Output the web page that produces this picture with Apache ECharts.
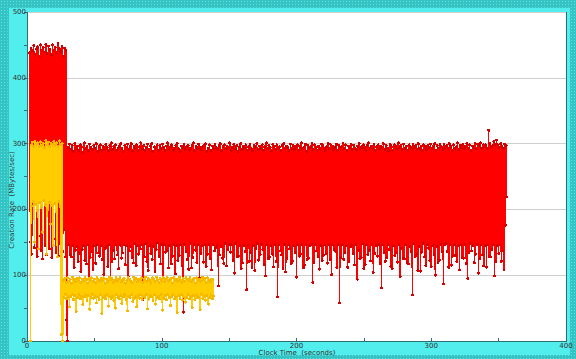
<!DOCTYPE html>
<html>
<head>
<meta charset="utf-8">
<script src="https://cdn.jsdelivr.net/npm/echarts@6/dist/echarts.min.js"></script>
<style>
html,body{margin:0;padding:0;width:576px;height:359px;overflow:hidden;}
body{background-color:#34c4c4;background-image:radial-gradient(circle, #62dcdc 0.7px, transparent 0.9px);background-size:3px 3px;}
#panel{position:absolute;left:9px;top:8px;width:561px;height:347px;background:#52eded;}
#chart{position:absolute;left:0;top:0;width:576px;height:359px;}
#chart svg path{shape-rendering:crispEdges;}
</style>
</head>
<body>
<div id="panel"></div>
<div id="chart"></div>
<script>
// ---- data (seconds / MBytes per sec) ----
const xTicks = [0, 100, 200, 300, 400];
const yTicks = [0, 100, 200, 300, 400, 500];
const xTitle = 'Clock Time  (seconds)';
const yTitle = 'Creation Rate  (MBytes/sec)';

// red series, first burst: sampled every 0.5 s starting at 2 s
const redStartA = 2, redStepA = 0.5;
const redA = [438,150,445,132,441,290,449,142,436,210,444,128,447,160,433,280,450,138,442,125,446,240,439,145,451,131,437,275,448,140,443,220,435,127,450,155,441,300,446,135,438,190,452,129,444,148,440,260,447,136,433,170,445,128,441,32];

// red series, long run: sampled every 0.5 s starting at 30 s
const redStartB = 30, redStepB = 0.5;
const redB = [0,
294,146,299,131,291,128,297,145,288,112,300,138,293,144,296,121,290,133,298,105,
295,139,287,145,301,122,292,117,296,146,289,88,299,127,294,136,291,109,297,145,
293,118,300,146,288,134,295,129,298,145,290,124,296,101,292,141,299,144,294,113,
289,147,297,72,301,120,291,138,295,125,298,146,290,131,293,110,296,147,300,126,
292,134,288,146,297,116,294,145,299,98,291,137,295,144,300,127,289,119,296,148,
293,115,298,145,290,132,295,140,301,146,292,63,297,128,289,148,294,121,299,107,
291,145,296,133,300,124,288,144,295,106,293,139,298,149,290,128,297,117,292,147,
299,92,294,146,289,135,296,137,301,111,291,145,295,117,298,129,290,147,293,102,
297,145,300,122,292,130,288,146,296,114,294,44,299,147,291,136,295,124,297,109,
290,149,293,111,298,127,301,147,289,138,296,119,292,146,299,96,294,133,291,145,
295,120,297,146,300,113,288,132,293,147,298,125,290,108,296,146,292,137,299,141,
294,145,291,84,297,131,300,144,289,126,295,118,298,148,292,114,296,139,293,147,
301,135,290,146,294,122,299,103,292,148,297,128,288,129,295,145,300,110,291,119,
296,145,293,136,298,78,290,146,295,121,299,134,292,112,289,145,297,107,294,140,
300,148,291,123,296,131,293,147,298,139,290,116,295,99,301,146,292,125,297,128,
294,145,289,132,299,113,296,147,291,121,298,67,293,146,295,137,290,131,297,110,
300,147,292,105,296,126,294,146,289,140,299,118,293,121,297,145,291,134,295,97,
298,146,290,129,296,132,301,147,292,111,294,115,299,146,288,124,297,126,293,145,
295,147,300,89,291,119,298,146,294,137,290,128,296,109,292,145,299,122,297,130,
293,146,289,133,295,118,300,147,292,124,298,101,296,146,291,139,294,136,299,112,
290,147,297,58,293,127,295,146,301,124,292,135,298,145,289,112,296,120,294,143,
299,146,291,133,297,116,293,147,290,94,296,138,300,125,292,127,295,148,298,110,
294,116,289,146,297,131,301,138,292,122,296,146,293,104,299,133,290,145,295,129,
298,147,292,118,296,81,294,146,300,135,291,121,297,127,293,147,289,139,299,113,
295,110,290,145,298,130,296,134,292,120,301,146,294,98,297,141,291,126,299,125,
293,146,296,119,290,117,298,144,295,136,292,70,299,148,294,128,297,132,291,107,
300,144,293,106,296,135,289,148,298,128,295,115,291,147,297,141,294,122,299,113,
292,145,296,131,300,100,290,144,297,119,293,123,298,147,295,136,291,87,299,146,
294,148,297,136,292,112,300,147,296,115,290,129,298,146,293,130,295,121,301,145,
291,108,297,146,294,127,299,126,292,147,296,118,300,95,293,134,298,148,290,137,
296,145,294,119,301,132,292,147,299,103,297,125,301,146,293,131,298,114,295,145,
298,112,292,146,320,128,300,128,294,139,297,146,303,99,299,121,305,145,298,133,
294,146,300,121,296,137,293,108,299,176,297,219];

// yellow series, first burst: sampled every 0.5 s starting at 2.5 s
const yellowStartA = 2.5, yellowStepA = 0.5;
const yellowA = [0,298,205,302,212,296,150,304,208,299,198,301,140,295,210,303,203,297,165,300,214,294,207,305,132,298,200,302,211,296,178,300,206,299,145,303,209,297,196,301,128,295,212,304,204,298,10,300,0];

// yellow series, second run: sampled every 0.5 s starting at 27 s
const yellowStartB = 27, yellowStepB = 0.5;
const yellowB = [
92,66,95,71,89,64,96,68,91,52,94,67,88,70,97,63,93,69,90,45,
95,66,92,71,96,64,89,68,94,55,91,67,97,70,93,62,88,69,95,48,
92,66,96,71,90,65,94,68,89,58,97,67,93,63,91,70,95,42,92,66,
96,69,88,64,94,71,90,53,97,67,93,65,95,68,89,62,92,50,96,70,
91,66,94,64,97,69,90,57,93,67,95,71,88,63,92,46,96,68,94,66,
91,70,89,60,97,64,93,67,95,52,90,69,94,65,92,70,96,63,89,68,
93,66,97,71,90,49,95,64,92,69,88,67,96,62,94,70,91,56,97,66,
93,68,89,64,95,71,92,47,96,65,90,69,94,63,97,70,91,66,93,54,
95,68,88,71,96,64,92,67,94,43,90,69,97,65,93,70,89,62,95,67,
91,59,96,66,94,71,92,64,97,68,90,51,93,69,95,63,88,70,96,66,
92,67,94,48,91,71,97,65,93,68,95,62,89,69,96,56,92,66,90,70,
94,64,93,68];

function toPairs(start, step, vals) {
  return vals.map((v, i) => [start + i * step, v]);
}
const redData = toPairs(redStartA, redStepA, redA).concat(toPairs(redStartB, redStepB, redB));
const yellowData = toPairs(yellowStartA, yellowStepA, yellowA).concat(toPairs(yellowStartB, yellowStepB, yellowB));

const axisColor = '#2d6f78';
const font = 'DejaVu Sans';
const chart = echarts.init(document.getElementById('chart'), null, {renderer: 'svg'});
chart.setOption({
  animation: false,
  backgroundColor: 'transparent',
  grid: {left: 27, right: 10, top: 12, bottom: 18, containLabel: false, outerBoundsMode: 'none',
         show: true, backgroundColor: '#ffffff', borderColor: axisColor, borderWidth: 1},
  graphic: [{
    type: 'text', x: 12, y: 200, rotation: Math.PI / 2,
    style: {text: yTitle, fontFamily: font, fontSize: 7, fill: '#333',
            align: 'center', verticalAlign: 'middle'}
  }, {
    type: 'text', x: 297, y: 353,
    style: {text: xTitle, fontFamily: font, fontSize: 7, fill: '#333',
            align: 'center', verticalAlign: 'middle'}
  }],
  xAxis: {
    type: 'value', min: 0, max: 400, interval: 50,
    axisLine: {show: true, lineStyle: {color: axisColor, width: 1}},
    axisTick: {show: true, inside: true, length: 3, lineStyle: {color: axisColor}},
    axisLabel: {fontFamily: font, fontSize: 7, color: '#333', margin: 1,
      formatter: v => xTicks.includes(v) ? String(v) : ''},
    splitLine: {show: false}
  },
  yAxis: {
    type: 'value', min: 0, max: 500, interval: 100,
    axisLine: {show: true, lineStyle: {color: axisColor, width: 1}},
    axisTick: {show: true, inside: false, length: 3, lineStyle: {color: axisColor}},
    minorTick: {show: true, splitNumber: 2, length: 3, lineStyle: {color: axisColor}},
    axisLabel: {fontFamily: font, fontSize: 7, color: '#333', margin: 1,
      formatter: v => yTicks.includes(v) ? String(v) : ''},
    splitLine: {show: true, lineStyle: {color: '#cfcfcf', width: 1}}
  },
  series: [
    {type: 'line', data: redData, showSymbol: true, showAllSymbol: true, symbol: 'circle', symbolSize: 3,
     lineStyle: {color: '#ff0000', width: 1.5}, itemStyle: {color: '#d40000'}, z: 2},
    {type: 'line', data: yellowData, showSymbol: true, showAllSymbol: true, symbol: 'circle', symbolSize: 3,
     lineStyle: {color: '#ffcc00', width: 1.5}, itemStyle: {color: '#f5b800'}, z: 3}
  ]
});
</script>
</body>
</html>
